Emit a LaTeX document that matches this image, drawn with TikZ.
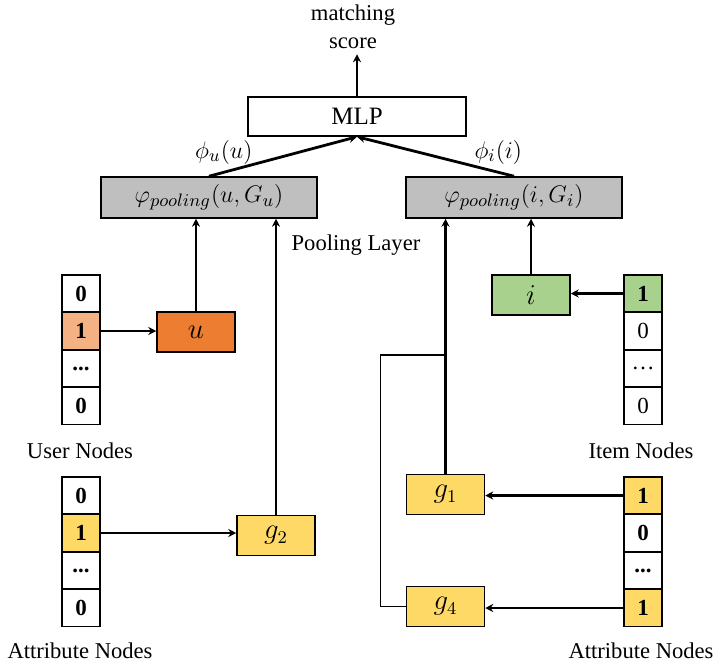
\documentclass[tikz,border=0pt]{standalone}
\usepackage{fontspec}
\setmainfont{Liberation Serif}
\usepackage{amsmath}
\usetikzlibrary{positioning,arrows.meta}
\definecolor{poolgray}{RGB}{191,191,191}
\definecolor{userorange}{RGB}{237,125,49}
\definecolor{lightorange}{RGB}{244,177,131}
\definecolor{itemgreen}{RGB}{169,209,142}
\definecolor{attryellow}{RGB}{255,217,102}
\tikzset{
    % Basic node styles
    box/.style={rectangle, draw, line width=0.75pt, minimum width=39pt,
                minimum height=20pt, inner sep=0pt, font=\fontsize{13.5}{15}\selectfont},
    pool box/.style={box, fill=poolgray, minimum width=108pt, minimum height=20.5pt,
                     font=\fontsize{13}{15}\selectfont},
    mlp box/.style={box, minimum width=109pt, minimum height=19.5pt,
                    font=\fontsize{12.5}{14}\selectfont},
    cell/.style={rectangle, draw, line width=0.6pt, minimum width=19pt,
                 minimum height=18.5pt, inner sep=0pt, font=\fontsize{11.5}{13}\selectfont},
    % Arrow styles
    arrow/.style={-{Stealth[length=4pt,width=4pt]}, line width=1.4pt},
    link/.style={line width=0.6pt},
    % Annotation styles
    annot/.style={font=\fontsize{11.3}{13}\selectfont, align=center},
}

\begin{document}
\begin{tikzpicture}[x=0.5pt, y=-0.5pt]
    \useasboundingbox (0,0) rectangle (717,664);

    % Top
    \node[annot] (score) at (353,27) {matching\\[1pt]score};
    \node[mlp box] (mlp) at (357,116.5) {MLP};
    \draw[arrow] (mlp.north) -- ++(0,-42);

    % Pooling layer
    \node[pool box] (poolu) at (209,197.5) {$\varphi_{pooling}(u,G_u)$};
    \node[pool box] (pooli) at (514,197.5) {$\varphi_{pooling}(i,G_i)$};
    \node[annot] (poollabel) at (356,245) {Pooling Layer};
    \draw[arrow] (poolu.north) -- (mlp.south) node[pos=0.1, above, annot, font=\fontsize{13}{15}\selectfont] {$\phi_u(u)$};
    \draw[arrow] (pooli.north) -- (mlp.south) node[pos=0.1, above, annot, font=\fontsize{13}{15}\selectfont] {$\phi_i(i)$};

    % User nodes
    \foreach \k/\v/\c in {1/0/white, 2/1/lightorange, 3/{...}/white, 4/0/white} {
        \node[cell, fill=\c] (us\k) at (81, 256+37.5*\k) {\textbf{\v}};
    }
    \node[annot] (userlabel) at (80,451) {User Nodes};
    \node[box, fill=userorange] (u) at (196,332) {$u$};
    \draw[arrow] (us2.east) -- (us2.east -| u.west);
    \draw[arrow] (u.north) -- (u.north |- poolu.south);

    % Item nodes
    \node[cell, fill=itemgreen] (it1) at (643,293.5) {\textbf{1}};
    \foreach \k/\v in {2/0, 3/{\dots}, 4/0} {
        \node[cell] (it\k) at (643, 256+37.5*\k) {\v};
    }
    \node[annot] (itemlabel) at (641,451) {Item Nodes};
    \node[box, fill=itemgreen] (i) at (531,295) {$i$};
    \draw[arrow] (it1.west) -- (it1.west -| i.east);
    \draw[arrow] (i.north) -- (i.north |- pooli.south);

    % Attribute nodes (user side)
    \foreach \k/\v/\c in {1/0/white, 2/1/attryellow, 3/{...}/white, 4/0/white} {
        \node[cell, fill=\c] (ua\k) at (81, 458+37.5*\k) {\textbf{\v}};
    }
    \node[annot] (uattrlabel) at (80,651) {Attribute Nodes};
    \node[box, fill=attryellow] (g2) at (276,535.5) {$g_2$};
    \draw[arrow] (ua2.east) -- (ua2.east -| g2.west);
    \draw[arrow] (g2.north) -- (g2.north |- poolu.south);

    % Attribute nodes (item side)
    \foreach \k/\v/\c in {1/1/attryellow, 2/0/white, 3/{...}/white, 4/1/attryellow} {
        \node[cell, fill=\c] (ia\k) at (643, 458+37.5*\k) {\textbf{\v}};
    }
    \node[annot] (iattrlabel) at (641,651) {Attribute Nodes};
    \node[box, fill=attryellow] (g1) at (445.5,494.5) {$g_1$};
    \node[box, fill=attryellow] (g4) at (445.5,606.5) {$g_4$};
    \draw[arrow] (ia1.west) -- (ia1.west -| g1.east);
    \draw[arrow] (ia4.west) -- (ia4.west -| g4.east);
    \draw[arrow] (g1.north) -- (g1.north |- pooli.south);
    \coordinate (join) at (g1.north |- 0,355);
    \draw[link] (join) -- ++(-65,0) |- (g4.west);
\end{tikzpicture}
\end{document}
